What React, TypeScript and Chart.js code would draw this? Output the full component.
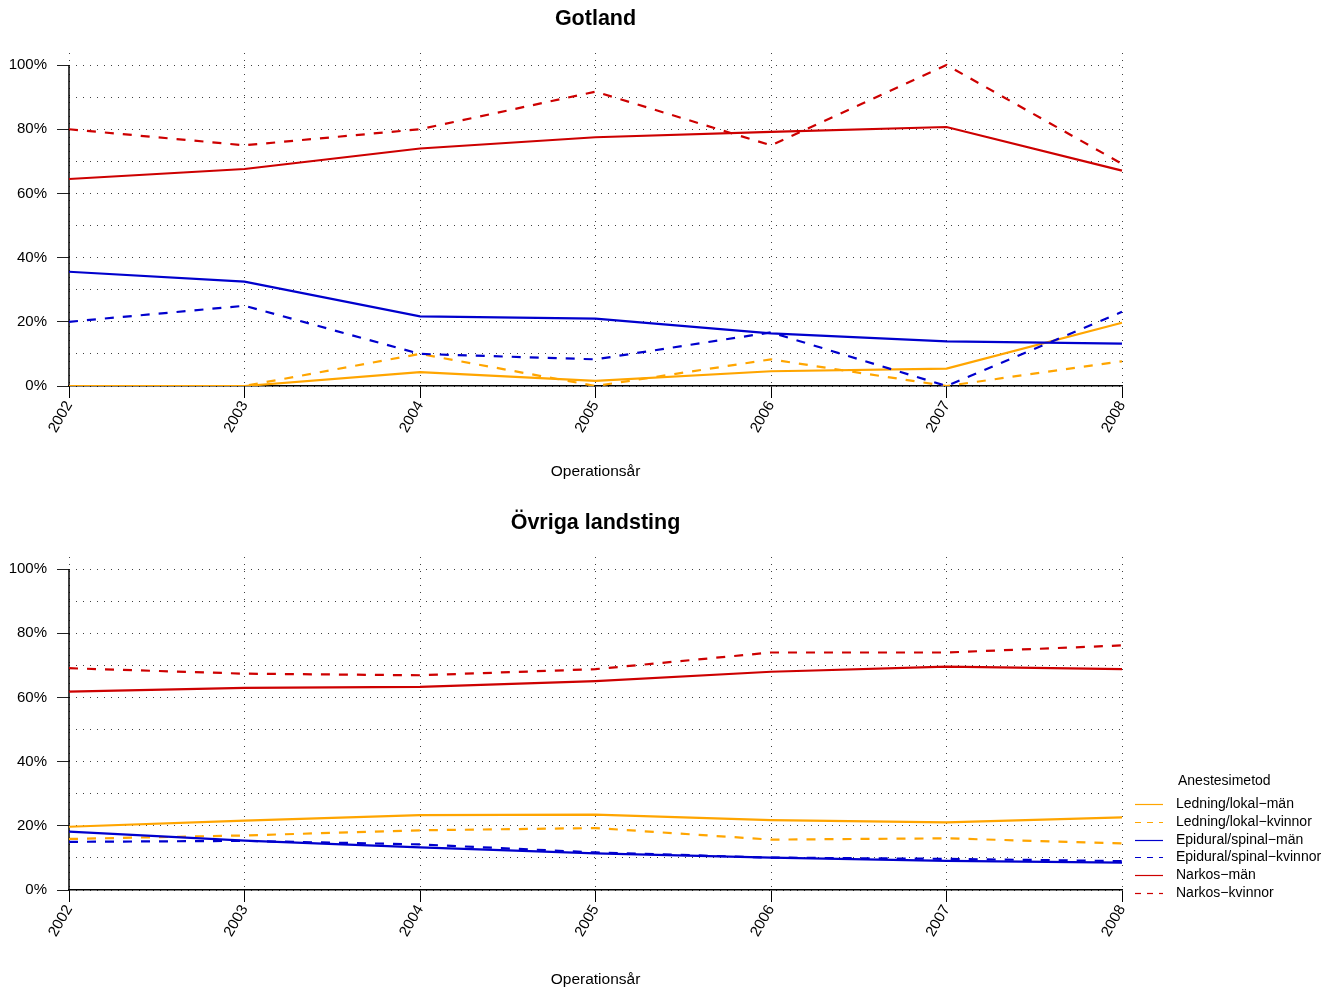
import React, { useEffect, useRef } from 'react';
import { Chart, registerables } from 'chart.js';

Chart.register(...registerables);

const FONT = '"Liberation Sans", Arial, Helvetica, sans-serif';

const years = ['2002', '2003', '2004', '2005', '2006', '2007', '2008'];

const seriesLabels = [
  'Ledning/lokal−män',
  'Ledning/lokal−kvinnor',
  'Epidural/spinal−män',
  'Epidural/spinal−kvinnor',
  'Narkos−män',
  'Narkos−kvinnor',
];
const seriesColors = ['#FFA500', '#FFA500', '#0000CD', '#0000CD', '#CD0000', '#CD0000'];
const seriesDashed = [false, true, false, true, false, true];

// Gotland (percent)
const gotLedningMan = [0, 0, 4.3, 1.6, 4.6, 5.4, 19.7];
const gotLedningKvinnor = [0, 0, 10, 0, 8.3, 0, 7.7];
const gotEpiduralMan = [35.6, 32.5, 21.7, 21.0, 16.4, 13.9, 13.2];
const gotEpiduralKvinnor = [20, 25, 10, 8.3, 16.7, 0, 23.1];
const gotNarkosMan = [64.5, 67.6, 74.0, 77.5, 79.2, 80.7, 67.1];
const gotNarkosKvinnor = [80, 75, 80, 91.7, 75, 100, 69.2];

// Övriga landsting (percent)
const ovrLedningMan = [19.7, 21.6, 23.3, 23.5, 21.8, 21.1, 22.6];
const ovrLedningKvinnor = [15.9, 17.0, 18.6, 19.3, 15.7, 16.1, 14.5];
const ovrEpiduralMan = [18.2, 15.4, 13.3, 11.4, 10.1, 9.1, 8.5];
const ovrEpiduralKvinnor = [15.0, 15.3, 14.2, 11.7, 10.1, 9.7, 9.0];
const ovrNarkosMan = [61.8, 63.0, 63.3, 65.1, 68.0, 69.6, 68.8];
const ovrNarkosKvinnor = [69.1, 67.4, 66.9, 68.8, 74.0, 74.0, 76.2];

const xAxisTitle = 'Operationsår';
const legendTitle = 'Anestesimetod';

const GRID = 'rgba(0,0,0,0.75)';

const axisLinePlugin = {
  id: 'axisLine',
  beforeDatasetsDraw(chart: any) {
    const { ctx, chartArea } = chart;
    const y = chart.scales.y;
    ctx.save();
    ctx.strokeStyle = '#000';
    ctx.lineWidth = 1.5;
    ctx.beginPath();
    ctx.moveTo(chartArea.left, y.getPixelForValue(0));
    ctx.lineTo(chartArea.left, y.getPixelForValue(100));
    ctx.stroke();
    ctx.restore();
  },
};

const legendPlugin = {
  id: 'customLegend',
  afterDraw(chart: any, _args: any, opts: any) {
    if (!opts || !opts.show) return;
    const ctx = chart.ctx;
    ctx.save();
    ctx.font = `14px ${FONT}`;
    ctx.fillStyle = '#000';
    ctx.textBaseline = 'middle';
    ctx.textAlign = 'left';
    ctx.fillText(legendTitle, opts.x + 43, opts.y);
    chart.data.datasets.forEach((ds: any, i: number) => {
      const yy = Math.round(opts.y + opts.firstGap + i * opts.spacing) + 0.5;
      ctx.strokeStyle = ds.borderColor;
      ctx.lineWidth = 1.2;
      ctx.setLineDash(ds.borderDash && ds.borderDash.length ? [6, 6] : []);
      ctx.beginPath();
      ctx.moveTo(opts.x, yy);
      ctx.lineTo(opts.x + 28, yy);
      ctx.stroke();
      ctx.fillText(ds.label, opts.x + 41, yy);
    });
    ctx.restore();
  },
};

function makeConfig(title: string, series: number[][], o: any) {
  const datasets = series.map((d, i) => ({
    label: seriesLabels[i],
    data: d,
    borderColor: seriesColors[i],
    backgroundColor: seriesColors[i],
    borderWidth: 2.2,
    borderDash: seriesDashed[i] ? [9, 9] : [],
    pointRadius: 0,
    tension: 0,
    fill: false,
    order: -i,
  }));
  return {
    type: 'line',
    data: { labels: years, datasets },
    options: {
      responsive: false,
      animation: false,
      events: [],
      layout: { padding: { left: 0, right: 214, top: 0, bottom: 0 } },
      plugins: {
        legend: { display: false },
        tooltip: { enabled: false },
        title: {
          display: true,
          fullSize: false,
          text: title,
          color: '#000',
          font: { family: FONT, size: 21.5, weight: 'bold', lineHeight: 1.2 },
          padding: { top: o.titleTop, bottom: o.titleBottom },
        },
        customLegend: o.legend,
      },
      scales: {
        x: {
          type: 'category',
          offset: false,
          grid: {
            color: GRID,
            lineWidth: 1,
            drawTicks: true,
            tickLength: 12,
            tickColor: '#000',
            tickWidth: 1,
          },
          border: { display: true, color: '#000', width: 1.5, dash: [1, 6] },
          ticks: {
            autoSkip: false,
            minRotation: 60,
            maxRotation: 60,
            padding: 0,
            color: '#000',
            font: { family: FONT, size: 15 },
          },
          title: {
            display: true,
            text: xAxisTitle,
            color: '#000',
            font: { family: FONT, size: 15.5, lineHeight: 1.2 },
            padding: { top: 0, bottom: o.xTitleBottom },
          },
          afterFit: (s: any) => {
            s.height = o.xHeight;
          },
        },
        y: {
          type: 'linear',
          min: 0,
          max: 103.75,
          grid: {
            color: GRID,
            lineWidth: 1,
            tickLength: 12,
            tickColor: (c: any) =>
              c.tick && Math.round(c.tick.value) % 20 === 0 ? '#222' : 'rgba(0,0,0,0)',
          },
          border: { display: false, dash: [1, 6] },
          ticks: {
            stepSize: 10,
            includeBounds: false,
            autoSkip: false,
            padding: 10,
            color: '#000',
            font: { family: FONT, size: 15 },
            callback: (v: any) => (Math.round(v) % 20 === 0 ? `${Math.round(v)}%` : ''),
          },
          afterFit: (s: any) => {
            s.width = 69;
          },
        },
      },
    },
    plugins: [axisLinePlugin, legendPlugin],
  };
}

function ChartCanvas({ width, height, build }: { width: number; height: number; build: () => any }) {
  const ref = useRef<HTMLCanvasElement | null>(null);
  useEffect(() => {
    if (!ref.current) return;
    const chart = new Chart(ref.current, build());
    return () => chart.destroy();
  }, []);
  return (
    <canvas
      ref={ref}
      width={width}
      height={height}
      style={{ display: 'block', width: `${width}px`, height: `${height}px` }}
    />
  );
}

export default function App() {
  return (
    <div
      style={{
        position: 'absolute',
        left: 0,
        top: 0,
        width: 1336,
        height: 991,
        background: '#fff',
      }}
    >
      <ChartCanvas
        width={1336}
        height={495}
        build={() =>
          makeConfig(
            'Gotland',
            [gotLedningMan, gotLedningKvinnor, gotEpiduralMan, gotEpiduralKvinnor, gotNarkosMan, gotNarkosKvinnor],
            { titleTop: 5.9, titleBottom: 21.3, xHeight: 109, xTitleBottom: 13.9, legend: { show: false } }
          )
        }
      />
      <ChartCanvas
        width={1336}
        height={496}
        build={() =>
          makeConfig(
            'Övriga landsting',
            [ovrLedningMan, ovrLedningKvinnor, ovrEpiduralMan, ovrEpiduralKvinnor, ovrNarkosMan, ovrNarkosKvinnor],
            {
              titleTop: 15.1,
              titleBottom: 21.1,
              xHeight: 101,
              xTitleBottom: 1.9,
              legend: { show: true, x: 1135, y: 286, firstGap: 23, spacing: 17.8 },
            }
          )
        }
      />
    </div>
  );
}
